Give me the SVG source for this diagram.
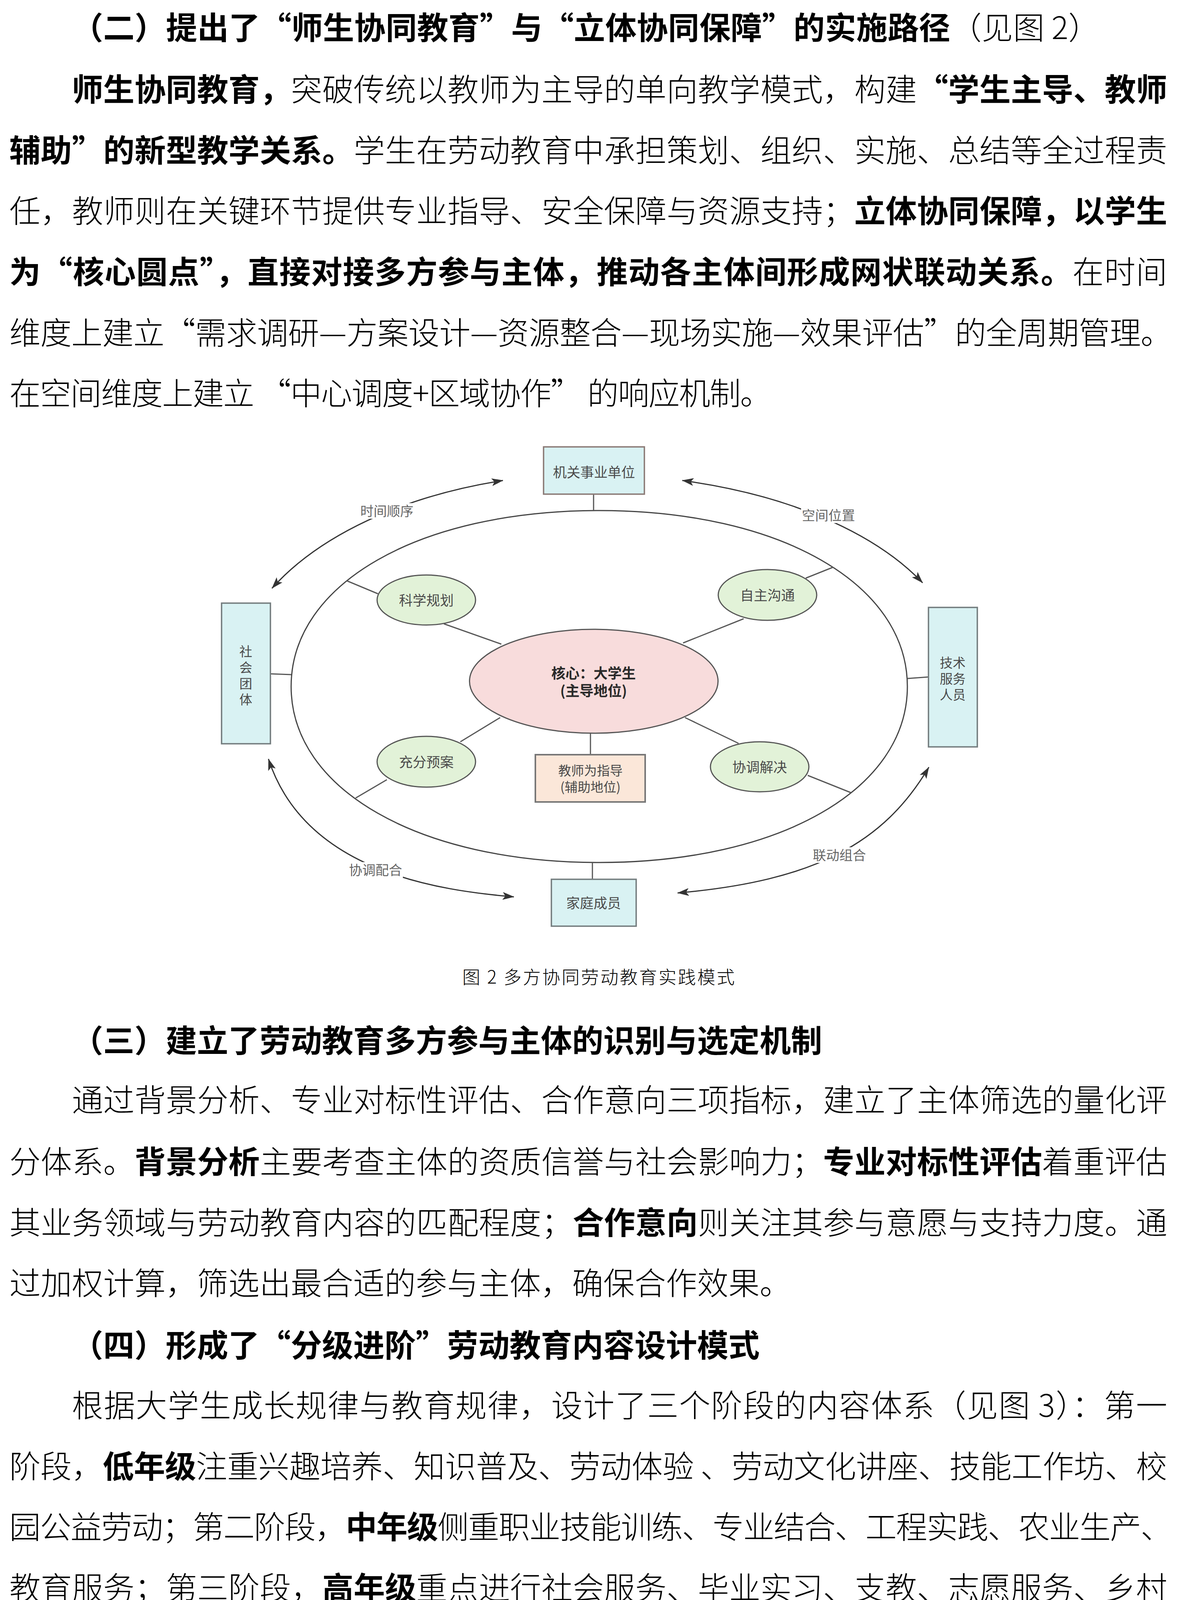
<svg xmlns="http://www.w3.org/2000/svg" width="3012" height="4289" viewBox="0 0 3012 4289">
<style>
text{font-family:"Noto Sans CJK SC","Noto Sans CJK JP",sans-serif;}
.body{font-size:80px;fill:#000;font-weight:300;}
.b{font-weight:700;}
.node{font-size:35px;fill:#4a4a4a;text-anchor:middle;}
.nodes{font-size:33px;fill:#4a4a4a;text-anchor:middle;}
.core{font-size:36px;fill:#2a2a2a;font-weight:700;text-anchor:middle;}
.elabel{font-size:34px;fill:#666;text-anchor:middle;}
.cap{font-size:46px;fill:#000;font-weight:300;}
.box{fill:#d9f2f3;stroke:#737c7e;stroke-width:3.5;}
.green{fill:#e2f2d8;stroke:#555;stroke-width:3;}
.conn{stroke:#555;stroke-width:3;fill:none;}
.arc{stroke:#333;stroke-width:3;fill:none;marker-start:url(#ah);marker-end:url(#ah);}
</style>
<defs>
<marker id="ah" viewBox="0 0 30 20" refX="29" refY="10" markerWidth="30" markerHeight="20" markerUnits="userSpaceOnUse" orient="auto-start-reverse">
<path d="M0,0 L30,10 L0,20 L7,10 Z" fill="#333"/>
</marker>
</defs>
<rect x="0" y="0" width="3012" height="4289" fill="#fff"/>

<g id="text-top">
<text class="body" x="184" y="100" textLength="2630" lengthAdjust="spacing"><tspan class="b">（二）提出了“师生协同教育”与“立体协同保障”的实施路径</tspan><tspan>（见图 2）</tspan></text>
<text class="body" x="184" y="258" textLength="2803" lengthAdjust="spacing"><tspan class="b">师生协同教育，</tspan><tspan>突破传统以教师为主导的单向教学模式，构建</tspan><tspan class="b">“学生主导、教师</tspan></text>
<text class="body" x="24" y="414" textLength="2963" lengthAdjust="spacing"><tspan class="b">辅助”的新型教学关系。</tspan><tspan>学生在劳动教育中承担策划、组织、实施、总结等全过程责</tspan></text>
<text class="body" x="24" y="569" textLength="2963" lengthAdjust="spacing"><tspan>任，教师则在关键环节提供专业指导、安全保障与资源支持；</tspan><tspan class="b">立体协同保障，以学生</tspan></text>
<text class="body" x="24" y="725" textLength="2963" lengthAdjust="spacing"><tspan class="b">为“核心圆点”，直接对接多方参与主体，推动各主体间形成网状联动关系。</tspan><tspan>在时间</tspan></text>
<text class="body" x="24" y="881" textLength="2975" lengthAdjust="spacing">维度上建立“需求调研—方案设计—资源整合—现场实施—效果评估”的全周期管理。</text>
<text class="body" x="24" y="1036" textLength="1950" lengthAdjust="spacing">在空间维度上建立 “中心调度+区域协作” 的响应机制。</text>
</g>

<g id="diagram">
<g id="big-ring">
<path class="conn" style="stroke:#444" d="M2322,1757.5 C2322,2021 1994.8,2208 1533.5,2208 C1072.2,2208 745,2021 745,1757.5 C745,1494 1072.2,1307 1533.5,1307 C1994.8,1307 2322,1494 2322,1757.5 Z"/>
</g>

<g id="connectors">
<line class="conn" x1="1519" y1="1265" x2="1519" y2="1307"/>
<line class="conn" x1="692" y1="1725" x2="745" y2="1727"/>
<line class="conn" x1="2322" y1="1737" x2="2376" y2="1733"/>
<line class="conn" x1="1516" y1="2208" x2="1516" y2="2251"/>
<line class="conn" x1="888" y1="1487" x2="967" y2="1520"/>
<line class="conn" x1="1136" y1="1597" x2="1283" y2="1649"/>
<line class="conn" x1="2062" y1="1480" x2="2132" y2="1452"/>
<line class="conn" x1="1903" y1="1584" x2="1748" y2="1646"/>
<line class="conn" x1="1178" y1="1899" x2="1280" y2="1837"/>
<line class="conn" x1="990" y1="1996" x2="910" y2="2043"/>
<line class="conn" x1="1753" y1="1837" x2="1890" y2="1903"/>
<line class="conn" x1="2067" y1="1985" x2="2177" y2="2029"/>
<line class="conn" x1="1511" y1="1877" x2="1511" y2="1932"/>
<path class="arc" d="M696,1506 C817.6,1370.1 1031.8,1270 1287,1230"/>
<path class="arc" d="M1746,1230 C2005.6,1265.3 2232.1,1356.8 2361,1492"/>
<path class="arc" d="M687,1943 C782.4,2235.4 1129.1,2279.8 1315,2296"/>
<path class="arc" d="M2377,1964 C2262.2,2157.5 2087.2,2255.1 1734,2286"/>
<rect x="920" y="1288" width="140" height="40" fill="#fff"/>
<text class="elabel" x="990" y="1321">时间顺序</text>
<rect x="2050" y="1299" width="140" height="40" fill="#fff"/>
<text class="elabel" x="2120" y="1332">空间位置</text>
<rect x="891" y="2207" width="140" height="40" fill="#fff"/>
<text class="elabel" x="961" y="2240">协调配合</text>
<rect x="2078" y="2169" width="140" height="40" fill="#fff"/>
<text class="elabel" x="2148" y="2202">联动组合</text>
</g>

<g id="node-jiguan">
<rect class="box" style="stroke:#8a7a76" x="1391" y="1144" width="258" height="121"/>
<text class="node" x="1520" y="1222">机关事业单位</text>
</g>
<g id="node-shehui">
<rect class="box" x="567" y="1544" width="125" height="360"/>
<text class="nodes" x="629" y="1680">社</text>
<text class="nodes" x="629" y="1721">会</text>
<text class="nodes" x="629" y="1762">团</text>
<text class="nodes" x="629" y="1803">体</text>
</g>
<g id="node-jishu">
<rect class="box" x="2376" y="1555" width="125" height="357"/>
<text class="nodes" x="2438" y="1709">技术</text>
<text class="nodes" x="2438" y="1750">服务</text>
<text class="nodes" x="2438" y="1791">人员</text>
</g>
<g id="node-jiating">
<rect class="box" x="1411" y="2251" width="217" height="120"/>
<text class="node" x="1519" y="2325">家庭成员</text>
</g>
<g id="node-core">
<ellipse cx="1519.5" cy="1744" rx="318" ry="133" fill="#f8dcdc" stroke="#555" stroke-width="3"/>
<text class="core" x="1519" y="1737">核心：大学生</text>
<text class="core" x="1519" y="1782">(主导地位)</text>
</g>
<g id="node-kexue">
<ellipse class="green" cx="1091" cy="1536" rx="126" ry="64"/>
<text class="node" x="1091" y="1550">科学规划</text>
</g>
<g id="node-zizhu">
<ellipse class="green" cx="1964" cy="1523" rx="126" ry="65"/>
<text class="node" x="1964" y="1537">自主沟通</text>
</g>
<g id="node-chongfen">
<ellipse class="green" cx="1091" cy="1950" rx="126" ry="65"/>
<text class="node" x="1091" y="1964">充分预案</text>
</g>
<g id="node-xietiao">
<ellipse class="green" cx="1944" cy="1963" rx="126" ry="64"/>
<text class="node" x="1944" y="1977">协调解决</text>
</g>
<g id="node-teacher">
<rect x="1370" y="1932" width="281" height="121" fill="#fbe7d9" stroke="#777" stroke-width="4"/>
<text class="nodes" x="1511" y="1985">教师为指导</text>
<text class="nodes" x="1511" y="2027">(辅助地位)</text>
</g>
</g>

<g id="caption">
<text class="cap" x="1183" y="2518" textLength="697" lengthAdjust="spacing">图 2 多方协同劳动教育实践模式</text>
</g>

<g id="text-bottom">
<text class="body b" x="184" y="2693" textLength="1920" lengthAdjust="spacing">（三）建立了劳动教育多方参与主体的识别与选定机制</text>
<text class="body" x="184" y="2845" textLength="2803" lengthAdjust="spacing">通过背景分析、专业对标性评估、合作意向三项指标，建立了主体筛选的量化评</text>
<text class="body" x="24" y="3003" textLength="2963" lengthAdjust="spacing"><tspan>分体系。</tspan><tspan class="b">背景分析</tspan><tspan>主要考查主体的资质信誉与社会影响力；</tspan><tspan class="b">专业对标性评估</tspan><tspan>着重评估</tspan></text>
<text class="body" x="24" y="3159" textLength="2963" lengthAdjust="spacing"><tspan>其业务领域与劳动教育内容的匹配程度；</tspan><tspan class="b">合作意向</tspan><tspan>则关注其参与意愿与支持力度。通</tspan></text>
<text class="body" x="24" y="3314">过加权计算，筛选出最合适的参与主体，确保合作效果。</text>
<text class="body b" x="184" y="3473" textLength="1760" lengthAdjust="spacing">（四）形成了“分级进阶”劳动教育内容设计模式</text>
<text class="body" x="184" y="3627" textLength="2803" lengthAdjust="spacing">根据大学生成长规律与教育规律，设计了三个阶段的内容体系（见图 3）：第一</text>
<text class="body" x="24" y="3783" textLength="2963" lengthAdjust="spacing"><tspan>阶段，</tspan><tspan class="b">低年级</tspan><tspan>注重兴趣培养、知识普及、劳动体验 、劳动文化讲座、技能工作坊、校</tspan></text>
<text class="body" x="24" y="3938" textLength="2975" lengthAdjust="spacing"><tspan>园公益劳动；第二阶段，</tspan><tspan class="b">中年级</tspan><tspan>侧重职业技能训练、专业结合、工程实践、农业生产、</tspan></text>
<text class="body" x="24" y="4094" textLength="2963" lengthAdjust="spacing"><tspan>教育服务；第三阶段，</tspan><tspan class="b">高年级</tspan><tspan>重点进行社会服务、毕业实习、支教、志愿服务、乡村</tspan></text>
<text class="body" x="24" y="4250">振兴实践等。</text>
</g>
</svg>
